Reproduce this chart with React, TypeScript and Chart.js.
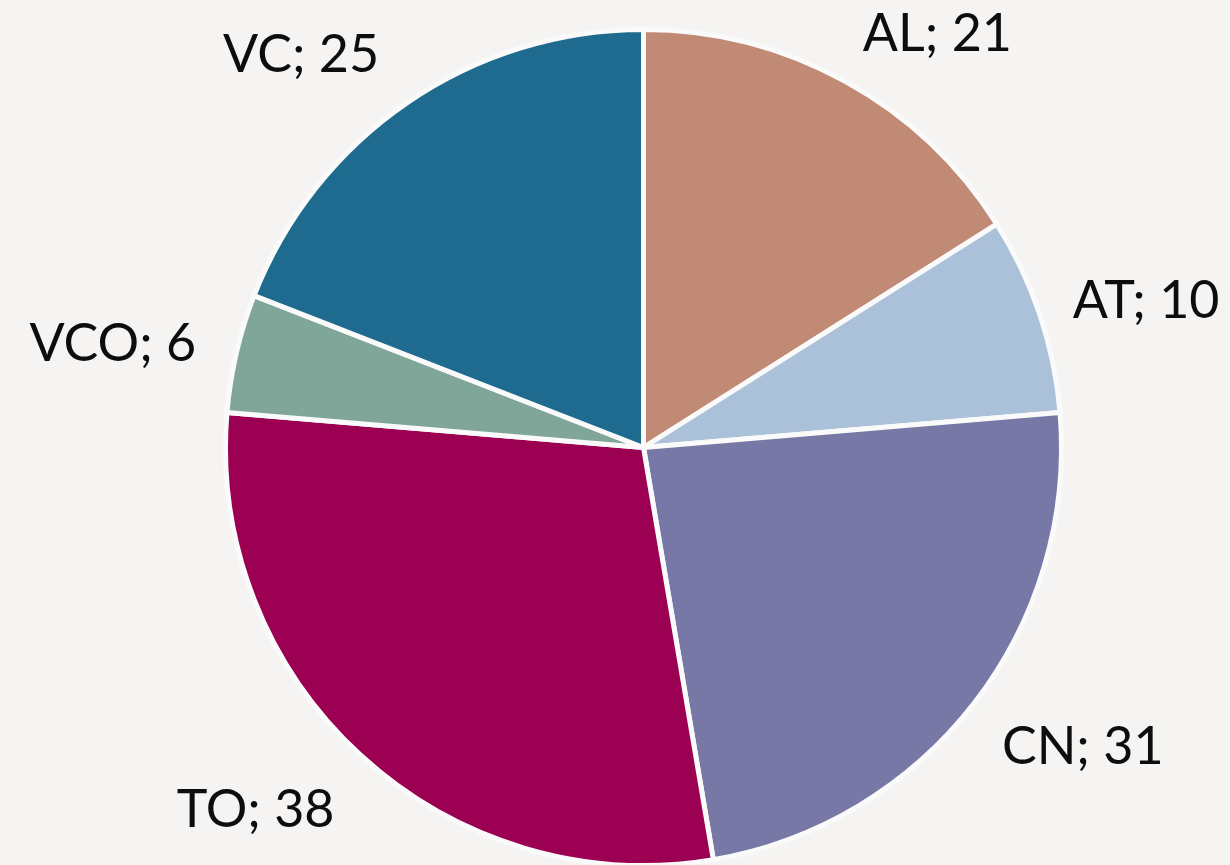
import React, { useEffect, useRef } from "react";
import { Chart, registerables } from "chart.js";

Chart.register(...registerables);

const categories = ["AL", "AT", "CN", "TO", "VCO", "VC"];
const values = [21, 10, 31, 38, 6, 25];
const colors = ["#c08a75", "#abc1da", "#7878a6", "#9c0052", "#7fa698", "#1e6b8f"];

// label layout: angular nudge (deg) from slice mid-angle, and distance beyond outer radius (px)
const labelAngleNudge = [6.45, 2.1, -3.6, 4.5, -1.85, -6.6];
const labelRadialGap = [90.6, 106, 113, 111.6, 123, 104.4];

const BG = "#f5f4f2";

const labelPlugin = {
  id: "outsideLabels",
  afterDatasetsDraw(chart: any) {
    const ctx = chart.ctx;
    const meta = chart.getDatasetMeta(0);
    const fontSize = 52;
    ctx.save();
    ctx.font = `400 ${fontSize}px Lato, "DejaVu Sans", sans-serif`;
    ctx.fillStyle = "#0d0d0d";
    ctx.textAlign = "center";
    ctx.textBaseline = "alphabetic";
    const capHalf = (fontSize * 0.7165) / 2;
    meta.data.forEach((arc: any, i: number) => {
      const { x, y, startAngle, endAngle, outerRadius } = arc.getProps(
        ["x", "y", "startAngle", "endAngle", "outerRadius"],
        true
      );
      const mid = (startAngle + endAngle) / 2 + (labelAngleNudge[i] * Math.PI) / 180;
      const d = outerRadius + labelRadialGap[i];
      const cx = x + Math.cos(mid) * d;
      const cy = y + Math.sin(mid) * d;
      ctx.fillText(`${categories[i]}; ${values[i]}`, cx, cy + capHalf);
    });
    ctx.restore();
  },
};

export default function App() {
  const ref = useRef<HTMLCanvasElement>(null);
  useEffect(() => {
    document.body.style.margin = "0";
    document.body.style.background = BG;
    const chart = new Chart(ref.current as HTMLCanvasElement, {
      type: "pie",
      data: {
        labels: categories,
        datasets: [
          {
            data: values,
            backgroundColor: colors,
            borderColor: "#fafafa",
            borderWidth: 5,
            radius: 418,
          } as any,
        ],
      },
      options: {
        responsive: false,
        animation: false,
        layout: { padding: { left: 57, top: 30 } },
        plugins: {
          legend: { display: false },
          tooltip: { enabled: false },
        },
      },
      plugins: [labelPlugin],
    });
    return () => chart.destroy();
  }, []);
  return (
    <div style={{ width: 1230, height: 865, background: BG }}>
      <canvas ref={ref} width={1230} height={865} style={{ display: "block" }} />
    </div>
  );
}
